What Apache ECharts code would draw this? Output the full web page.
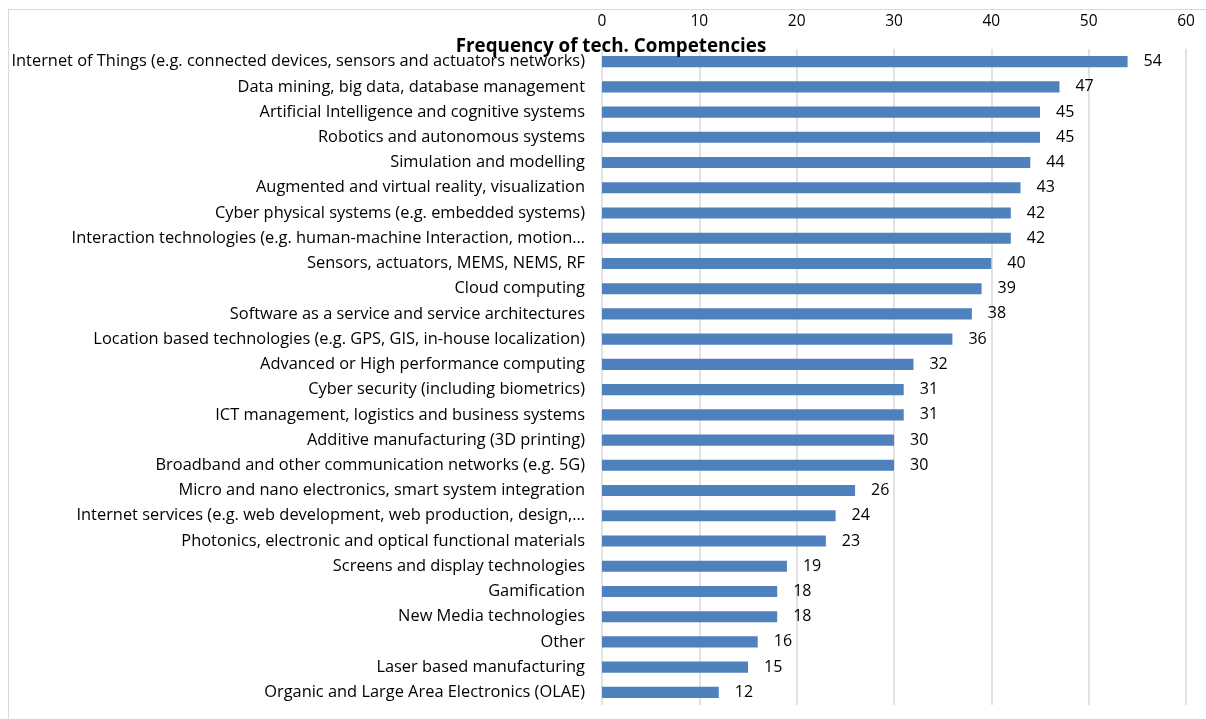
<!DOCTYPE html>
<html>
<head>
<meta charset="utf-8">
<script src="https://cdn.jsdelivr.net/npm/echarts@6/dist/echarts.min.js"></script>
<style>
    html, body { margin: 0; padding: 0; background: #fff; }
    #frame {
        position: absolute; left: 8px; top: 9px; width: 1220px; height: 740px;
        border: 1px solid #d9d9d9; box-sizing: border-box;
    }
    #chart { position: absolute; left: 0; top: 0; width: 1206px; height: 719px; }
</style>
</head>
<body>
<div id="frame"></div>
<div id="chart"></div>
<script>
// competencies, top to bottom as in the figure
const competencies = [
    'Internet of Things (e.g. connected devices, sensors and actuators networks)',
    'Data mining, big data, database management',
    'Artificial Intelligence and cognitive systems',
    'Robotics and autonomous systems',
    'Simulation and modelling',
    'Augmented and virtual reality, visualization',
    'Cyber physical systems (e.g. embedded systems)',
    'Interaction technologies (e.g. human-machine Interaction, motion…',
    'Sensors, actuators, MEMS, NEMS, RF',
    'Cloud computing',
    'Software as a service and service architectures',
    'Location based technologies (e.g. GPS, GIS, in-house localization)',
    'Advanced or High performance computing',
    'Cyber security (including biometrics)',
    'ICT management, logistics and business systems',
    'Additive manufacturing (3D printing)',
    'Broadband and other communication networks (e.g. 5G)',
    'Micro and nano electronics, smart system integration',
    'Internet services (e.g. web development, web production, design,…',
    'Photonics, electronic and optical functional materials',
    'Screens and display technologies',
    'Gamification',
    'New Media technologies',
    'Other',
    'Laser based manufacturing',
    'Organic and Large Area Electronics (OLAE)'
];
const frequency = [54, 47, 45, 45, 44, 43, 42, 42, 40, 39, 38, 36, 32, 31, 31, 30, 30, 26, 24, 23, 19, 18, 18, 16, 15, 12];
const xTicks = { min: 0, max: 60, interval: 10 };

const chart = echarts.init(document.getElementById('chart'));
chart.setOption({
    animation: false,
    textStyle: { fontFamily: 'Open Sans' },
    title: {
        text: 'Frequency of tech. Competencies',
        left: 606,
        top: 32,
        textAlign: 'center',
        textStyle: { fontSize: 18.8, fontWeight: 'bold', color: '#000', fontFamily: 'Open Sans' }
    },
    grid: { left: 602, right: 20, top: 49, bottom: 14 },
    xAxis: {
        type: 'value',
        position: 'top',
        min: xTicks.min,
        max: xTicks.max,
        interval: xTicks.interval,
        axisLine: { show: false },
        axisTick: { show: false },
        axisLabel: { color: '#000', fontSize: 15.5, margin: 19 },
        splitLine: { lineStyle: { color: '#d9d9d9', width: 1.5 } }
    },
    yAxis: {
        type: 'category',
        inverse: true,
        data: competencies,
        axisLine: { show: false },
        axisTick: { show: false },
        axisLabel: { color: '#000', fontSize: 16.4, margin: 17 }
    },
    series: [{
        type: 'bar',
        data: frequency,
        barCategoryGap: '56%',
        itemStyle: { color: '#4f81bd' },
        label: { show: true, position: 'right', distance: 16, color: '#000', fontSize: 16 }
    }]
});
</script>
</body>
</html>
